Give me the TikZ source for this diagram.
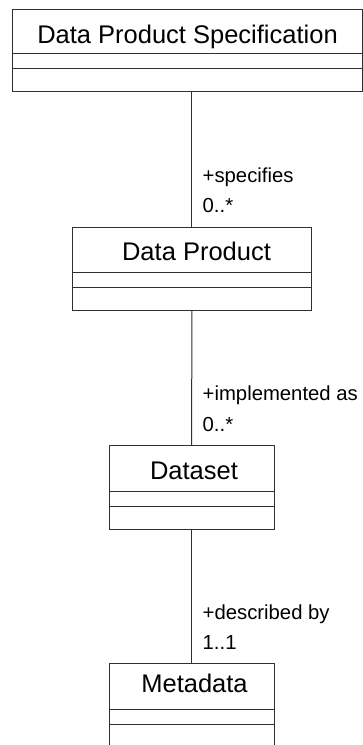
\documentclass[tikz,border=0pt]{standalone}
\usepackage{fontspec}
\setmainfont{Liberation Sans}
\definecolor{linecol}{HTML}{303030}
\begin{document}
\begin{tikzpicture}[x=1pt,y=-1pt,
  umlbox/.style={draw=linecol, line width=1pt, inner sep=0pt, fill=white},
  divider/.style={draw=linecol, line width=1pt},
  titletext/.style={anchor=base, inner sep=0pt, text=black, font=\fontsize{25.5}{30}\selectfont},
  lbl/.style={anchor=base west, inner sep=0pt, text=black, font=\fontsize{20.3}{24}\selectfont},
  conn/.style={draw=linecol, line width=1pt}]
\useasboundingbox (0,0) rectangle (363,745);
% class boxes
\node[umlbox, minimum width=350.5pt, minimum height=81.7pt] (spec) at (187.25,50.15) {};
\node[umlbox, minimum width=239.7pt, minimum height=82.7pt] (dp) at (191.85,268.65) {};
\node[umlbox, minimum width=164.7pt, minimum height=83.5pt] (ds) at (191.65,487.25) {};
\node[umlbox, minimum width=164.7pt, minimum height=86pt] (md) at (191.65,706.3) {};
% titles
\node[titletext] (specT) at (187.5,43.3) {Data Product Specification};
\node[titletext] (dpT) at (196.5,260) {Data Product};
\node[titletext] (dsT) at (194,479.3) {Dataset};
\node[titletext] (mdT) at (194.5,692.7) {Metadata};
% compartments
\draw[divider] (spec.west |- 0,53) -- (spec.east |- 0,53);
\draw[divider] (spec.west |- 0,68) -- (spec.east |- 0,68);
\draw[divider] (dp.west |- 0,272.7) -- (dp.east |- 0,272.7);
\draw[divider] (dp.west |- 0,287) -- (dp.east |- 0,287);
\draw[divider] (ds.west |- 0,491) -- (ds.east |- 0,491);
\draw[divider] (ds.west |- 0,506) -- (ds.east |- 0,506);
\draw[divider] (md.west |- 0,709.3) -- (md.east |- 0,709.3);
\draw[divider] (md.west |- 0,724.3) -- (md.east |- 0,724.3);
% connectors
\draw[conn] (dp.north |- spec.south) -- (dp.north);
\draw[conn] (dp.south) -- (ds.north);
\draw[conn] (ds.south) -- (md.north);
% association labels
\node[lbl] (l1) at (202.5,182) {+specifies};
\node[lbl] (m1) at (202.5,212) {0..*};
\node[lbl] (l2) at (202.5,400) {+implemented as};
\node[lbl] (m2) at (202.5,431) {0..*};
\node[lbl] (l3) at (202.5,619) {+described by};
\node[lbl] (m3) at (202.5,649) {1..1};
\end{tikzpicture}
\end{document}
